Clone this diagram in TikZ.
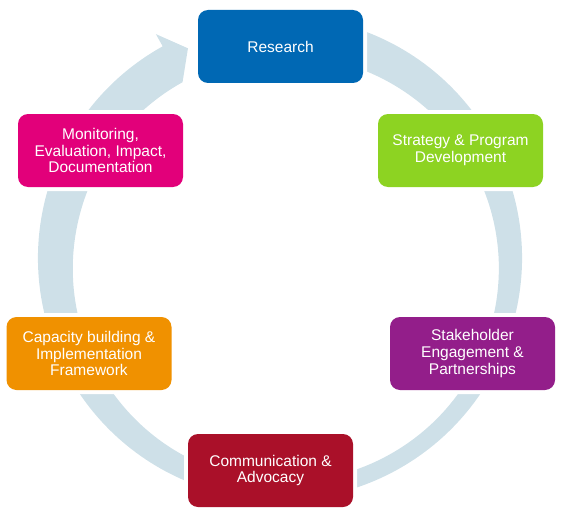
\documentclass[tikz,border=0pt]{standalone}
\usepackage{fontspec}
\setmainfont{Liberation Sans}
\usetikzlibrary{arrows.meta}

\definecolor{ringgrey}{RGB}{206,224,232}
\definecolor{researchblue}{RGB}{0,104,180}
\definecolor{strategygreen}{RGB}{141,211,34}
\definecolor{stakepurple}{RGB}{147,30,138}
\definecolor{commred}{RGB}{170,16,41}
\definecolor{capacityorange}{RGB}{240,145,0}
\definecolor{monitorpink}{RGB}{226,0,122}

\tikzset{
  stage/.style={rounded corners=10pt, minimum width=165pt, minimum height=73pt,
    align=center, text=white, font=\fontsize{15.5}{16.7}\selectfont,
    preaction={draw=white, line width=8pt}}
}

\begin{document}
\begin{tikzpicture}[x=1pt, y=1pt]
    \useasboundingbox (0,0) rectangle (565,-511);

    \begin{scope}[shift={(280,-258)}]
      \fill[ringgrey] (75:242) arc[start angle=75, end angle=-241, radius=242]
        -- (-241:256) -- (-246.3:229) -- (-241:201)
        arc[start angle=-241, end angle=75, radius=213] -- cycle;
    \end{scope}

    \node[stage, fill=researchblue] (research) at (280.5,-46.5) {Research};
    \node[stage, fill=strategygreen] (strategy) at (460.5,-150.5) {Strategy \& Program\\Development};
    \node[stage, fill=stakepurple] (stakeholder) at (472.5,-353.5) {Stakeholder\\Engagement \&\\Partnerships};
    \node[stage, fill=commred] (communication) at (270.5,-470.5) {Communication \&\\Advocacy};
    \node[stage, fill=capacityorange] (capacity) at (89,-353.5) {Capacity building \&\\Implementation\\Framework};
    \node[stage, fill=monitorpink] (monitoring) at (100.5,-150.5) {Monitoring,\\Evaluation, Impact,\\Documentation};
  \end{tikzpicture}
\end{document}
